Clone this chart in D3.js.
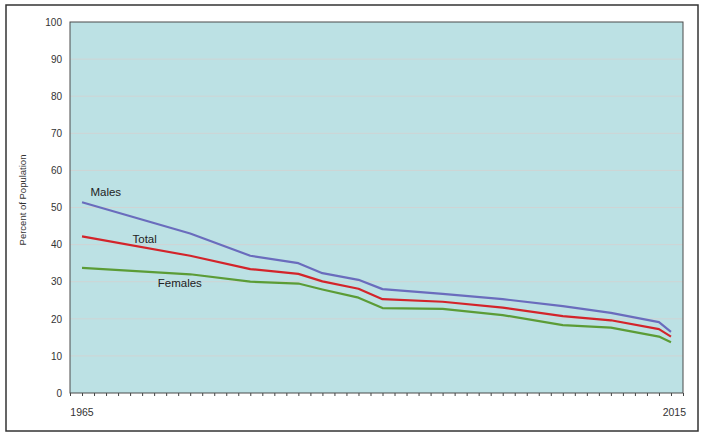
<!DOCTYPE html>
<html><head><meta charset="utf-8">
<script src="https://cdn.jsdelivr.net/npm/d3@7"></script>
<style>body{margin:0;background:#fff;} svg{display:block;font-family:"Liberation Sans",Arial,sans-serif;}</style>
</head><body>
<svg id="c" width="704" height="437"></svg>
<script>
const years   = [1965, 1974, 1979, 1983, 1985, 1988, 1990, 1995, 2000, 2005, 2009, 2013, 2014];
const males   = [51.4, 43.0, 37.0, 35.0, 32.3, 30.5, 28.0, 26.7, 25.3, 23.4, 21.6, 19.1, 16.5];
const total   = [42.2, 37.0, 33.4, 32.1, 30.1, 28.1, 25.3, 24.6, 23.0, 20.7, 19.6, 17.2, 15.2];
const females = [33.7, 32.0, 30.0, 29.5, 27.9, 25.7, 22.9, 22.7, 21.0, 18.3, 17.6, 15.2, 13.7];
const yTicks  = [0, 10, 20, 30, 40, 50, 60, 70, 80, 90, 100];
const xLabels = [{year: 1965, text: "1965"}, {year: 2015, text: "2015"}];
const seriesNames = ["Males", "Total", "Females"];
const seriesColors = ["#6a6cbd", "#d3242a", "#5b9c36"];

const svg = d3.select("#c");
const L = 70, R = 683, T = 22, B = 393;
const x = d3.scaleLinear().domain([1964, 2015]).range([L, R]);
const y = d3.scaleLinear().domain([0, 100]).range([B, T]);

// outer frame
svg.append("rect").attr("x", 6).attr("y", 5).attr("width", 692).attr("height", 426)
  .attr("fill", "#fff").attr("stroke", "#333").attr("stroke-width", 1.5);

// plot background
svg.append("rect").attr("x", L).attr("y", T).attr("width", R - L).attr("height", B - T)
  .attr("fill", "#bce1e4");

// gridlines
svg.append("g").selectAll("line").data(yTicks.filter(d => d > 0 && d < 100)).join("line")
  .attr("x1", L).attr("x2", R).attr("y1", d => y(d)).attr("y2", d => y(d))
  .attr("stroke", "#cfd4d4").attr("stroke-width", 1);

// y axis labels
const ya = svg.append("g").attr("transform", `translate(${L},0)`)
  .call(d3.axisLeft(y).tickValues(yTicks).tickSize(0).tickPadding(8));
ya.select(".domain").remove();
ya.selectAll("text").attr("font-size", 10).attr("fill", "#333").attr("font-family", "Liberation Sans, Arial, sans-serif");

// x axis ticks
const xt = d3.range(1964, 2016);
const xa = svg.append("g").attr("transform", `translate(0,${B})`)
  .call(d3.axisBottom(x).tickValues(xt).tickSize(3).tickFormat(""));
xa.select(".domain").remove();
xa.selectAll("line").attr("stroke", "#444");

// x labels
svg.append("g").selectAll("text").data(xLabels).join("text")
  .attr("x", (d, i) => i === 0 ? x(d.year) : x(d.year) + 3)
  .attr("y", 416)
  .attr("text-anchor", (d, i) => i === 0 ? "middle" : "end")
  .attr("font-size", 10.5).attr("fill", "#333").text(d => d.text);

// plot border
svg.append("rect").attr("x", L).attr("y", T).attr("width", R - L).attr("height", B - T)
  .attr("fill", "none").attr("stroke", "#4a4a4a").attr("stroke-width", 1);

// lines
const data = [males, total, females];
const line = d3.line().x((d, i) => x(years[i])).y(d => y(d));
svg.append("g").selectAll("path").data(data).join("path")
  .attr("d", line).attr("fill", "none")
  .attr("stroke", (d, i) => seriesColors[i]).attr("stroke-width", 2.2)
  .attr("stroke-linejoin", "round");

// series labels
const labelPos = [{name: "Males", yr: 1965.7, v: 53.2}, {name: "Total", yr: 1969.2, v: 40.5}, {name: "Females", yr: 1971.3, v: 28.6}];
svg.append("g").selectAll("text").data(labelPos).join("text")
  .attr("x", d => x(d.yr)).attr("y", d => y(d.v))
  .attr("font-size", 11.5).attr("fill", "#222").text(d => d.name);

// y axis title
svg.append("text").attr("transform", `translate(26,${200}) rotate(-90)`)
  .attr("text-anchor", "middle").attr("font-size", 9.5).attr("fill", "#333")
  .text("Percent of Population");
</script>
</body></html>
